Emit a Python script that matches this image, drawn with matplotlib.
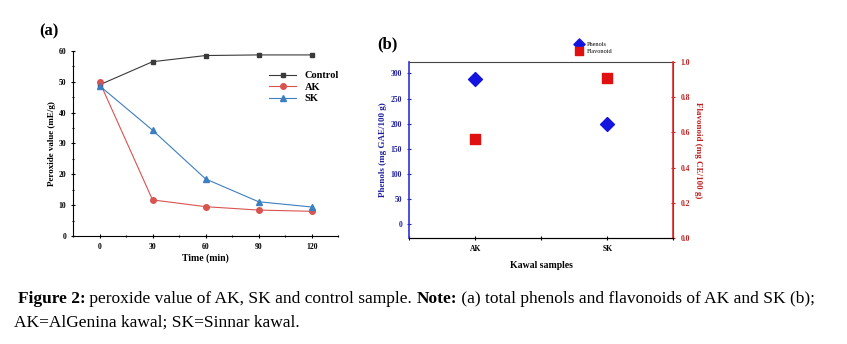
import numpy as np
import matplotlib
matplotlib.use("Agg")
import matplotlib.pyplot as plt
from matplotlib.text import Annotation
from matplotlib.ticker import MultipleLocator, AutoMinorLocator, FormatStrFormatter

plt.rcParams['font.family'] = ['Liberation Serif', 'DejaVu Serif']

# panel (a): peroxide value vs time
time_min = [0, 30, 60, 90, 120]
control = [49.0, 56.5, 58.5, 58.7, 58.7]
ak = [50.0, 11.7, 9.5, 8.4, 8.0]
sk = [48.7, 34.3, 18.5, 11.1, 9.4]

# panel (b): phenols and flavonoids
samples = ['AK', 'SK']
phenols = [289, 199]
flavonoid = [0.56, 0.91]

fig = plt.figure(figsize=(8.47, 3.44), dpi=100)

# ---- (a)
ax1 = fig.add_axes([0.0862, 0.314, 0.313, 0.538])
ax1.plot(time_min, control, '-s', color='#3a3a3a', lw=0.8, ms=3.5, label='Control')
ax1.plot(time_min, ak, '-o', color='#d9534f', lw=0.8, ms=4, label='AK')
ax1.plot(time_min, sk, '-^', color='#3d7fc0', lw=0.8, ms=4, label='SK')
ax1.set_xlim(-15, 135)
ax1.set_ylim(0, 60)
ax1.set_xticks(time_min)
ax1.set_yticks(range(0, 61, 10))
ax1.xaxis.set_minor_locator(MultipleLocator(15))
ax1.yaxis.set_minor_locator(MultipleLocator(5))
ax1.spines['top'].set_visible(False)
ax1.spines['right'].set_visible(False)
ax1.tick_params(which='both', direction='inout', labelsize=5.5, width=0.8)
ax1.tick_params(which='major', length=3)
ax1.tick_params(which='minor', length=2)
for t in ax1.get_xticklabels() + ax1.get_yticklabels():
    t.set_fontweight('bold')
ax1.set_xlabel('Time (min)', fontsize=7, fontweight='bold', labelpad=2)
ax1.set_ylabel('Peroxide value (mE/g)', fontsize=6.5, fontweight='bold', labelpad=2)
ax1.legend(loc='upper right', bbox_to_anchor=(1.03, 0.93), frameon=False,
           prop={'size': 7.5, 'weight': 'bold'}, handlelength=2.6,
           labelspacing=0.2, borderpad=0.2)
fig.text(0.046, 0.91, '(a)', fontsize=12, fontweight='bold', ha='left', va='center')

# ---- (b)
ax2 = fig.add_axes([0.483, 0.308, 0.312, 0.512])
x = np.arange(len(samples))
p1 = ax2.scatter(x, phenols, marker='D', s=50, color='#1414e0', label='Phenols', zorder=3)
ax2.set_xlim(-0.5, 1.5)
ax2.set_ylim(-28, 323)
ax2.set_xticks(x)
ax2.set_xticklabels(samples)
ax2.set_yticks(range(0, 301, 50))
ax2.xaxis.set_minor_locator(AutoMinorLocator(2))
ax2.tick_params(axis='x', which='both', direction='inout', labelsize=5.5, length=3, width=0.8)
ax2.tick_params(axis='y', direction='inout', labelsize=5.5, length=3, width=0.8,
                colors='#2020a0')
ax2.spines['left'].set_color('#3030e0')
ax2.spines['left'].set_linewidth(1.2)
ax2.spines['top'].set_color('#444444')
ax2.spines['bottom'].set_color('#333333')
ax2.set_xlabel('Kawal samples', fontsize=7, fontweight='bold', labelpad=6)
ax2.set_ylabel('Phenols (mg GAE/100 g)', fontsize=6.5, fontweight='bold', color='#2020a0', labelpad=3)

ax3 = ax2.twinx()
p2 = ax3.scatter(x, flavonoid, marker='s', s=50, color='#e01010', label='Flavonoid', zorder=3)
ax3.set_ylim(0, 1.0)
ax3.set_yticks(np.arange(0, 1.01, 0.2))
ax3.yaxis.set_major_formatter(FormatStrFormatter('%.1f'))
ax3.tick_params(axis='y', direction='inout', labelsize=5.5, length=3, width=0.8,
                colors='#c02020')
ax3.spines['right'].set_color('#e03030')
ax3.spines['right'].set_linewidth(1.2)
ax3.spines['left'].set_visible(False)
ax3.spines['top'].set_visible(False)
ax3.set_ylabel('Flavonoid (mg CE/100 g)', fontsize=6.5, fontweight='bold', color='#c02020',
               rotation=270, labelpad=9)
for t in ax2.get_xticklabels() + ax2.get_yticklabels() + ax3.get_yticklabels():
    t.set_fontweight('bold')

fig.legend(handles=[p1, p2], loc='center left', bbox_to_anchor=(0.672, 0.862),
           frameon=False, fontsize=4.5, handletextpad=0.3, labelspacing=0.3,
           markerscale=0.8, borderpad=0)
fig.text(0.445, 0.872, '(b)', fontsize=12, fontweight='bold', ha='left', va='center')

# ---- caption: bold and normal pieces, each placed after the previous one
pieces = [('Figure 2:', 'bold'),
          (' peroxide value of AK, SK and control sample. ', 'normal'),
          ('Note:', 'bold'),
          (' (a) total phenols and flavonoids of AK and SK (b);', 'normal')]
prev = fig.text(0.021, 0.12, pieces[0][0], fontsize=12.5, fontweight=pieces[0][1],
                va='baseline', ha='left')
for txt, wt in pieces[1:]:
    prev = fig.add_artist(Annotation(txt, xy=(1, 0), xycoords=prev, fontsize=12.5,
                                     fontweight=wt, va='bottom', ha='left'))
fig.text(0.016, 0.05, 'AK=AlGenina kawal; SK=Sinnar kawal.', fontsize=12.5,
         va='baseline', ha='left')

fig.savefig('out.png', dpi=100)
